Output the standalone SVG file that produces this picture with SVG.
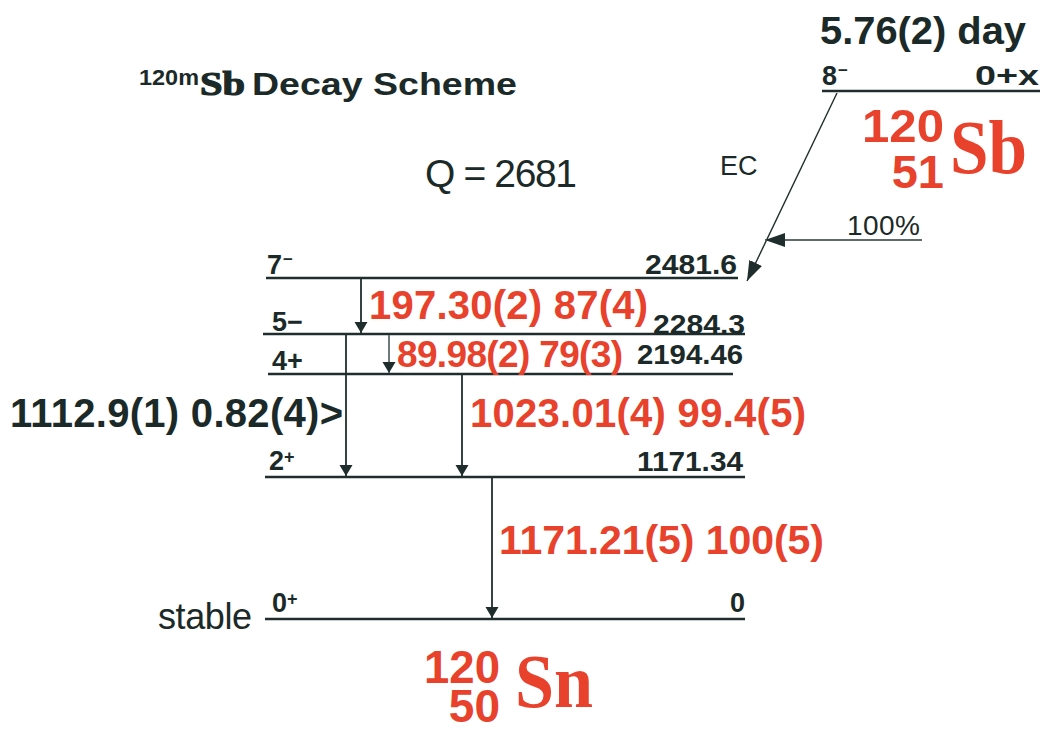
<svg xmlns="http://www.w3.org/2000/svg" width="1044" height="730" viewBox="0 0 1044 730">
<style>
.lvl{stroke:#1f2e2c;stroke-width:2.5;fill:none}
.g{stroke:#1f2e2c;stroke-width:1.8;fill:none}
.lab{font-family:"Liberation Sans",Arial,sans-serif;font-weight:bold;fill:#1b2a28}
.red{font-family:"Liberation Sans",Arial,sans-serif;font-weight:bold;fill:#e8412c}
.redser{font-family:"Liberation Serif","Times New Roman",serif;font-weight:bold;fill:#e8412c}
.reg{font-family:"Liberation Sans",Arial,sans-serif;fill:#1b2a28}
</style>
<defs>
<marker id="ah" viewBox="0 0 11 18" refX="11" refY="9" markerWidth="11" markerHeight="18" markerUnits="userSpaceOnUse" orient="auto">
<path d="M0,2.5 L11,9 L0,15.5 Z" fill="#1f2e2c"/>
</marker>
<marker id="ahb" viewBox="0 0 20 14" refX="20" refY="7" markerWidth="20" markerHeight="14" markerUnits="userSpaceOnUse" orient="auto">
<path d="M0,0 L20,7 L0,14 Z" fill="#1f2e2c"/>
</marker>
</defs>
<rect width="1044" height="730" fill="#ffffff"/>

<g id="title">
<text class="lab" x="139" y="85" font-size="22" textLength="60" lengthAdjust="spacingAndGlyphs">120m</text>
<text x="200" y="95" font-family="Liberation Serif,serif" font-weight="bold" font-size="34" fill="#1b2a28" stroke="#1b2a28" stroke-width="1.2" textLength="45" lengthAdjust="spacingAndGlyphs">Sb</text>
<text class="lab" x="252" y="95" font-size="31" textLength="265" lengthAdjust="spacingAndGlyphs">Decay Scheme</text>
</g>

<g id="qvalue">
<text class="reg" x="425" y="187" font-size="39" textLength="152">Q = 2681</text>
</g>

<g id="parent">
<text class="lab" x="820" y="44" font-size="38" textLength="206" lengthAdjust="spacingAndGlyphs">5.76(2) day</text>
<line class="lvl" x1="822" y1="91" x2="1040" y2="91"/>
<text class="lab" x="822" y="85" font-size="27">8<tspan dx="1" dy="-9" font-size="17">−</tspan></text>
<text class="lab" x="1039" y="85" font-size="27" text-anchor="end" textLength="64" lengthAdjust="spacingAndGlyphs">0+x</text>
<text class="red" x="862" y="142" font-size="47" textLength="82" lengthAdjust="spacingAndGlyphs">120</text>
<text class="red" x="944" y="188" font-size="47" text-anchor="end">51</text>
<text class="redser" x="950" y="173" font-size="77" textLength="77" lengthAdjust="spacingAndGlyphs">Sb</text>
</g>

<g id="ec-label">
<text class="reg" x="720" y="175" font-size="27">EC</text>
<text class="reg" x="847" y="235" font-size="28" textLength="73">100%</text>
</g>

<g id="level-2481">
<line class="lvl" x1="266" y1="278" x2="738" y2="278"/>
<text class="lab" x="267" y="274" font-size="27">7<tspan dx="1" dy="-9" font-size="17">−</tspan></text>
<text class="lab" x="737" y="274" font-size="27" text-anchor="end" textLength="92" lengthAdjust="spacingAndGlyphs">2481.6</text>
</g>

<g id="level-2284">
<line class="lvl" x1="263" y1="334" x2="745" y2="334"/>
<text class="lab" x="272" y="331" font-size="27">5−</text>
<text class="lab" x="745" y="334" font-size="27" text-anchor="end" textLength="92" lengthAdjust="spacingAndGlyphs">2284.3</text>
</g>

<g id="level-2194">
<line class="lvl" x1="268" y1="374" x2="733" y2="374"/>
<text class="lab" x="272" y="370" font-size="27">4+</text>
<text class="lab" x="743" y="364" font-size="28" text-anchor="end" textLength="106" lengthAdjust="spacingAndGlyphs">2194.46</text>
</g>

<g id="level-1171">
<line class="lvl" x1="265" y1="477" x2="745" y2="477"/>
<text class="lab" x="269" y="470" font-size="27">2<tspan dy="-7" font-size="18">+</tspan></text>
<text class="lab" x="743" y="471" font-size="27" text-anchor="end" textLength="106" lengthAdjust="spacingAndGlyphs">1171.34</text>
</g>

<g id="level-0">
<line class="lvl" x1="265" y1="619" x2="745" y2="619"/>
<text class="lab" x="272" y="612" font-size="27">0<tspan dy="-7" font-size="18">+</tspan></text>
<text class="lab" x="745" y="612" font-size="27" text-anchor="end">0</text>
<text class="reg" x="158" y="629" font-size="36" textLength="94">stable</text>
</g>

<g id="daughter">
<text class="red" x="424" y="683" font-size="47" textLength="76" lengthAdjust="spacingAndGlyphs">120</text>
<text class="red" x="500" y="722" font-size="46" text-anchor="end">50</text>
<text class="redser" x="515" y="707" font-size="76" textLength="78" lengthAdjust="spacingAndGlyphs">Sn</text>
</g>

<g id="connectors">
<line x1="837" y1="93" x2="747" y2="281" stroke="#1f2e2c" stroke-width="1.4" marker-end="url(#ahb)"/>
<line x1="922" y1="240" x2="765" y2="240" stroke="#5d6b6a" stroke-width="1.8" marker-end="url(#ahb)"/>
<line class="g" x1="361" y1="279" x2="361" y2="333" marker-end="url(#ah)"/>
<line x1="389" y1="335" x2="389" y2="373" stroke="#5d6b6a" stroke-width="1.8" marker-end="url(#ah)"/>
<line class="g" x1="346" y1="335" x2="346" y2="476" marker-end="url(#ah)"/>
<line class="g" x1="462" y1="375" x2="462" y2="476" marker-end="url(#ah)"/>
<line class="g" x1="492" y1="478" x2="492" y2="618" marker-end="url(#ah)"/>
</g>

<g id="gamma-labels">
<text class="red" x="369" y="319" font-size="40" textLength="279">197.30(2) 87(4)</text>
<text class="red" x="397" y="367" font-size="37" textLength="226">89.98(2) 79(3)</text>
<text class="lab" x="10" y="427" font-size="40" textLength="333">1112.9(1) 0.82(4)&gt;</text>
<text class="red" x="470" y="427" font-size="40" textLength="336">1023.01(4) 99.4(5)</text>
<text class="red" x="499" y="554" font-size="41" textLength="325">1171.21(5) 100(5)</text>
</g>
</svg>
